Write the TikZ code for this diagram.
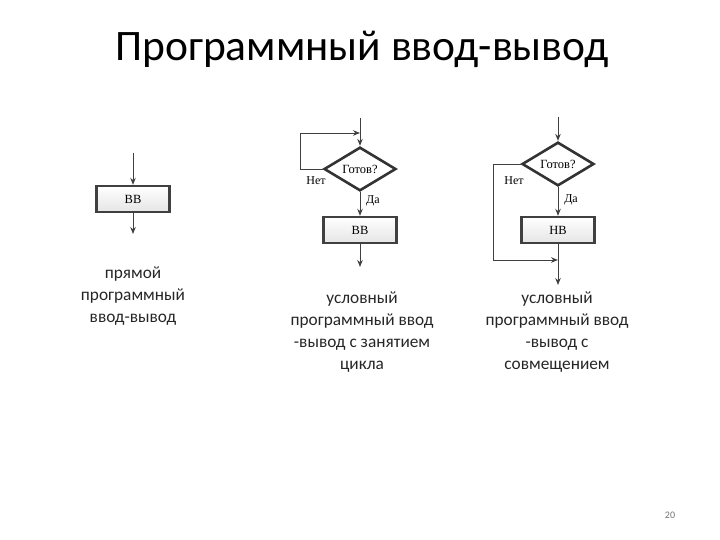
\documentclass[tikz,border=0pt]{standalone}
\usepackage{fontspec}
\setmainfont{Carlito}
\newfontfamily\blockfont{Liberation Serif}
\usetikzlibrary{shapes.geometric,arrows.meta}
\tikzset{
  blk/.style={draw=black!75, line width=2.4pt, top color=white, bottom color=black!10,
    minimum width=73pt, minimum height=26pt, inner sep=0pt,
    font=\blockfont\fontsize{12.5}{13}\selectfont},
  cond/.style={diamond, draw=black!80, line width=2.6pt, fill=white,
    minimum width=72pt, minimum height=43pt, inner sep=0pt,
    font=\blockfont\fontsize{12.5}{13}\selectfont},
  line/.style={draw=black!75, line width=0.9pt},
  flow/.style={line, -{Stealth[length=7pt,width=5.5pt]}},
  lbl/.style={font=\blockfont\fontsize{12}{13}\selectfont, inner sep=0pt},
  caption/.style={align=center, font=\fontsize{17.3}{22}\selectfont, text=black!85}
}
\begin{document}
\begin{tikzpicture}[x=1pt,y=-1pt]
\useasboundingbox (0,0) rectangle (720,540);
\node (title) at (362,49) {\fontsize{43.5}{50}\selectfont Программный ввод-вывод};

% прямой
\coordinate (a0) at (133,153);
\node[blk] (a1) at (133,199) {ВВ};
\coordinate (a2) at (133,234);
\draw[flow] (a0) -- (a1);
\draw[flow] (a1) -- (a2);
\node[caption] (ca) at (133,296) {прямой\\программный\\ввод-вывод};

% с занятием цикла
\coordinate (b0) at (360,118);
\coordinate (bj) at (360,133);
\node[cond] (b1) at (360,169) {Готов?};
\node[blk] (b2) at (360,230) {ВВ};
\coordinate (b3) at (360,267);
\draw[line] (b0) -- (bj);
\draw[flow] (bj) -- (b1);
\draw[flow] (b1.west) -- ++(-22,0) |- (bj);
\draw[flow] (b1) -- (b2);
\draw[flow] (b2) -- (b3);
\node[lbl] (bn) at (316,181) {Нет};
\node[lbl] (bd) at (373,201) {Да};
\node[caption] (cb) at (362,332) {условный\\программный ввод\\-вывод с занятием\\цикла};

% с совмещением
\coordinate (c0) at (558,117);
\node[cond] (c1) at (558,164) {Готов?};
\node[blk] (c2) at (558,230) {НВ};
\coordinate (cj) at (558,260);
\coordinate (c3) at (558,285);
\draw[flow] (c0) -- (c1);
\draw[flow] (c1) -- (c2);
\draw[line] (c2) -- (cj);
\draw[flow] (c1.west) -- ++(-27,0) |- (cj);
\draw[flow] (cj) -- (c3);
\node[lbl] (cn) at (514,181) {Нет};
\node[lbl] (cd) at (571,200) {Да};
\node[caption] (cc) at (557,332) {условный\\программный ввод\\-вывод с\\совмещением};

\node[font=\fontsize{10}{12}\selectfont, text=black!55] (num) at (670,515) {20};
\end{tikzpicture}
\end{document}
